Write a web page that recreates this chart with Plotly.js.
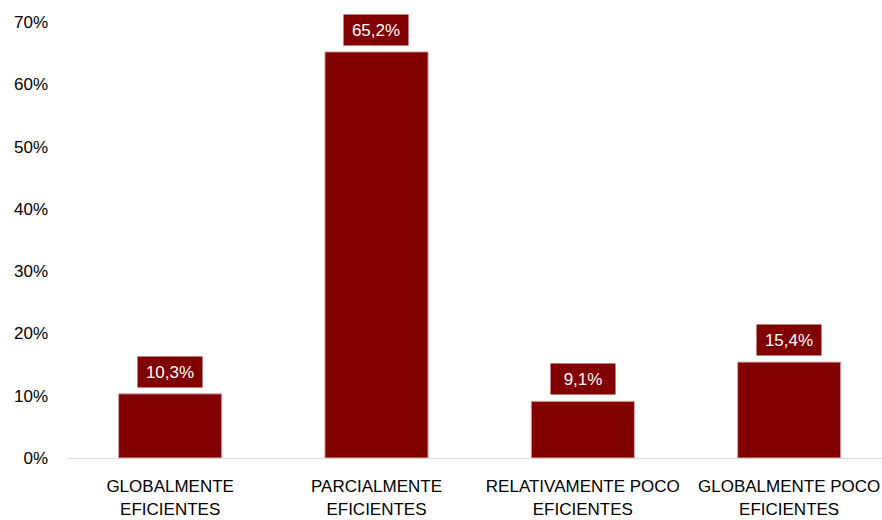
<!DOCTYPE html>
<html>
<head>
<meta charset="utf-8">
<script src="https://cdn.plot.ly/plotly-3.0.1.min.js"></script>
<style>html,body{margin:0;padding:0;background:#fff;}#chart{width:882px;height:520px;}</style>
</head>
<body>
<div id="chart"></div>
<script>
const categories = ["GLOBALMENTE<br>EFICIENTES", "PARCIALMENTE<br>EFICIENTES", "RELATIVAMENTE POCO<br>EFICIENTES", "GLOBALMENTE POCO<br>EFICIENTES"];
const values = [10.3, 65.2, 9.1, 15.4];
const yTicks = [0, 10, 20, 30, 40, 50, 60, 70];
const yTickText = ["0%", "10%", "20%", "30%", "40%", "50%", "60%", "70%"];

const fontFam = "Liberation Sans, Arial, sans-serif";
const barColor = "#800000";

const annotations = values.map((v, i) => ({
  x: i, y: v, xref: 'x', yref: 'y',
  text: v.toFixed(1).replace('.', ',') + '%',
  showarrow: false, yanchor: 'bottom', yshift: 6,
  bgcolor: barColor, width: 64, height: 30, borderpad: 0,
  font: {family: fontFam, size: 17, color: '#ffffff'}
}));

const data = [{
  type: 'bar', x: [0, 1, 2, 3], y: values, width: 0.5,
  marker: {color: barColor, line: {color: '#d8a8a8', width: 1}},
  hoverinfo: 'none'
}];

const layout = {
  width: 882, height: 520,
  margin: {l: 67, r: 0, t: 22, b: 62},
  paper_bgcolor: '#ffffff', plot_bgcolor: '#ffffff',
  showlegend: false,
  font: {family: fontFam, size: 17, color: '#000000'},
  xaxis: {
    range: [-0.5, 3.45], tickvals: [0, 1, 2, 3], ticktext: categories,
    showgrid: false, zeroline: false, showline: true, linecolor: '#d9d9d9', linewidth: 1,
    ticks: '', ticklabelstandoff: 13,
    tickfont: {family: fontFam, size: 17, color: '#000'}, fixedrange: true
  },
  yaxis: {
    range: [0, 70], tickvals: yTicks, ticktext: yTickText,
    showgrid: false, zeroline: false, showline: false, ticks: '',
    ticklabelstandoff: 18,
    tickfont: {family: fontFam, size: 17, color: '#000'}, fixedrange: true
  },
  annotations: annotations
};

Plotly.newPlot('chart', data, layout, {displayModeBar: false, staticPlot: true});
</script>
</body>
</html>
